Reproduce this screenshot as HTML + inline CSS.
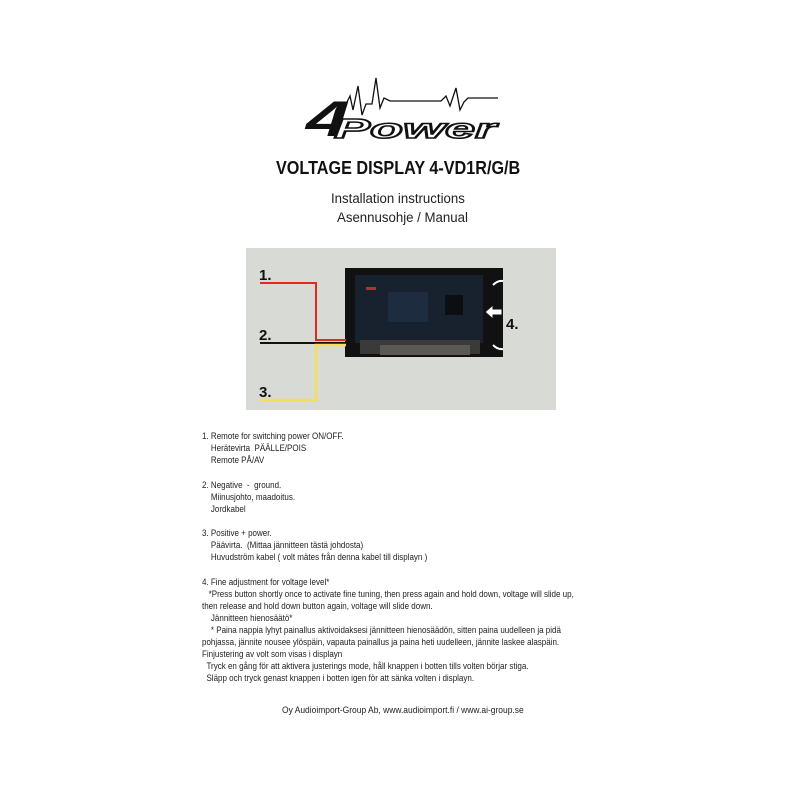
<!DOCTYPE html>
<html><head><meta charset="utf-8"><style>
html,body{margin:0;padding:0;background:#fff;width:800px;height:800px;overflow:hidden;position:relative;font-family:"Liberation Sans",sans-serif;color:#222}
.a{position:absolute;white-space:nowrap}
.t{font-size:9px;transform:scaleX(0.89);transform-origin:0 0;line-height:12px}
</style></head><body>
<svg class="a" style="left:0;top:0" width="800" height="800">
 <!-- logo -->
 <text x="306" y="136" font-family="Liberation Sans" font-weight="bold" font-style="italic" font-size="50" fill="#111" textLength="44" lengthAdjust="spacingAndGlyphs">4</text>
 <path d="M345,106 L350,96 L353,110 L358,86 L362,115 L366,104 L372,104 L376,78 L380,108 L384,98 L390,101 L441,101 L446,96 L450,106 L456,88 L460,110 L464,102 L468,98 L498,98" fill="none" stroke="#111" stroke-width="1.3"/>
 <text x="334" y="138" font-family="Liberation Sans" font-weight="bold" font-style="italic" font-size="28" fill="#fff" stroke="#111" stroke-width="1.6" textLength="162" lengthAdjust="spacingAndGlyphs">Power</text>
 <!-- photo -->
 <rect x="246" y="248" width="310" height="162" fill="#d7dad5"/>
 <rect x="345" y="268" width="158" height="89" fill="#111"/>
 <rect x="355" y="275" width="128" height="68" fill="#17222e"/>
 <rect x="388" y="292" width="40" height="30" fill="#1f3044" opacity=".8"/>
 <rect x="445" y="295" width="18" height="20" fill="#0b0f14"/>
 <rect x="360" y="340" width="120" height="14" fill="#3a3a38"/>
 <rect x="380" y="345" width="90" height="10" fill="#5a5954"/>
 <rect x="366" y="287" width="10" height="3" fill="#a33"/>
 <path d="M485,312 L493,305 L493,309 L502,309 L502,315 L493,315 L493,319 Z" fill="#fff" stroke="#111" stroke-width="1"/>
 <path d="M493,285 Q498,280 503,281 M493,345 Q498,350 503,349" stroke="#fff" stroke-width="2" fill="none"/>
 <!-- wires -->
 <path d="M260,283 L316,283 L316,340 L346,340" fill="none" stroke="#e0291f" stroke-width="2"/>
 <path d="M260,343 L346,343" fill="none" stroke="#111" stroke-width="2"/>
 <path d="M346,345 L316,345 L316,400 L260,400" fill="none" stroke="#f5df5a" stroke-width="2.5"/>
 <text x="259" y="280" font-family="Liberation Sans" font-weight="bold" font-size="15" fill="#111">1.</text>
 <text x="259" y="340" font-family="Liberation Sans" font-weight="bold" font-size="15" fill="#111">2.</text>
 <text x="259" y="397" font-family="Liberation Sans" font-weight="bold" font-size="15" fill="#111">3.</text>
 <text x="506" y="329" font-family="Liberation Sans" font-weight="bold" font-size="15" fill="#111">4.</text>
</svg>
<div class="a" style="left:276px;top:158px;font-size:18px;font-weight:bold;transform:scaleX(0.9);transform-origin:0 0;color:#111">VOLTAGE DISPLAY 4-VD1R/G/B</div>
<div class="a" style="left:331px;top:191px;font-size:13.5px;transform:scaleX(0.98);transform-origin:0 0">Installation instructions</div>
<div class="a" style="left:337px;top:210px;font-size:13.5px;transform:scaleX(0.98);transform-origin:0 0">Asennusohje / Manual</div>
<div class="a t" style="left:202px;top:430px">1. Remote for switching power ON/OFF.<br>&nbsp;&nbsp;&nbsp;&nbsp;Herätevirta&nbsp; PÄÄLLE/POIS<br>&nbsp;&nbsp;&nbsp;&nbsp;Remote PÅ/AV</div>
<div class="a t" style="left:202px;top:479px">2. Negative&nbsp; -&nbsp; ground.<br>&nbsp;&nbsp;&nbsp;&nbsp;Miinusjohto, maadoitus.<br>&nbsp;&nbsp;&nbsp;&nbsp;Jordkabel</div>
<div class="a t" style="left:202px;top:527px">3. Positive + power.<br>&nbsp;&nbsp;&nbsp;&nbsp;Päävirta.&nbsp; (Mittaa jännitteen tästä johdosta)<br>&nbsp;&nbsp;&nbsp;&nbsp;Huvudström kabel ( volt mätes från denna kabel till displayn )</div>
<div class="a t" style="left:202px;top:576px">4. Fine adjustment for voltage level*<br>&nbsp;&nbsp;&nbsp;*Press button shortly once to activate fine tuning, then press again and hold down, voltage will slide up,<br>then release and hold down button again, voltage will slide down.<br>&nbsp;&nbsp;&nbsp;&nbsp;Jännitteen hienosäätö*<br>&nbsp;&nbsp;&nbsp;&nbsp;* Paina nappia lyhyt painallus aktivoidaksesi jännitteen hienosäädön, sitten paina uudelleen ja pidä<br>pohjassa, jännite nousee ylöspäin, vapauta painallus ja paina heti uudelleen, jännite laskee alaspäin.<br>Finjustering av volt som visas i displayn<br>&nbsp;&nbsp;Tryck en gång för att aktivera justerings mode, håll knappen i botten tills volten börjar stiga.<br>&nbsp;&nbsp;Släpp och tryck genast knappen i botten igen för att sänka volten i displayn.</div>
<div class="a t" style="left:282px;top:704px;transform:scaleX(0.94)">Oy Audioimport-Group Ab, www.audioimport.fi / www.ai-group.se</div>
</body></html>
